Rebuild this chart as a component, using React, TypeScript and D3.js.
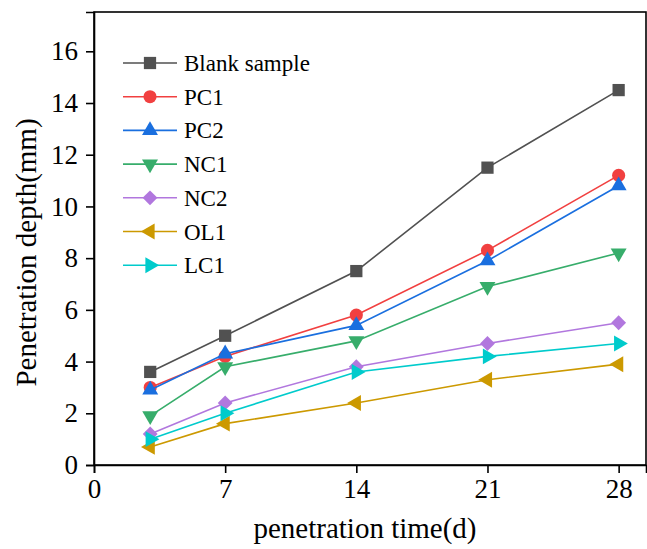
import { useEffect, useRef } from 'react';
import * as d3 from 'd3';

const days = [3, 7, 14, 21, 28];
const xTicks = [0, 7, 14, 21, 28];
const yTicks = [0, 2, 4, 6, 8, 10, 12, 14, 16];

const seriesNames = ['Blank sample', 'PC1', 'PC2', 'NC1', 'NC2', 'OL1', 'LC1'];
const blank = [3.6, 5.0, 7.5, 11.5, 14.5];
const pc1 = [3.0, 4.2, 5.8, 8.3, 11.2];
const pc2 = [2.9, 4.3, 5.4, 7.9, 10.8];
const nc1 = [1.9, 3.8, 4.8, 6.9, 8.2];
const nc2 = [1.2, 2.4, 3.8, 4.7, 5.5];
const ol1 = [0.7, 1.6, 2.4, 3.3, 3.9];
const lc1 = [1.0, 2.0, 3.6, 4.2, 4.7];

const colors = ['#515151', '#F14040', '#1A6FDF', '#37AD6B', '#B177DE', '#CC9900', '#00CBCC'];

const W = 647;
const H = 549;
const FONT = "'Liberation Serif', 'Times New Roman', Times, serif";

const App = () => {
    const svgRef = useRef<SVGSVGElement | null>(null);

    useEffect(() => {
        const values = [blank, pc1, pc2, nc1, nc2, ol1, lc1];
        const margin = { top: 12, right: 1, bottom: 84, left: 94 };
        const innerW = W - margin.left - margin.right;
        const innerH = H - margin.top - margin.bottom;

        const svg = d3.select(svgRef.current)
            .attr('font-family', FONT);
        svg.selectAll('*').remove();

        const g = svg.append('g').attr('transform', `translate(${margin.left},${margin.top})`);

        const x = d3.scaleLinear().domain([0, 29.46]).range([0, innerW]);
        const y = d3.scaleLinear().domain([0, 17.52]).range([innerH, 0]);

        // marker shapes: square, circle, up, down, diamond, left, right
        const markers: { type: d3.SymbolType; size: number; rot: number }[] = [
            { type: d3.symbolSquare, size: 150, rot: 0 },
            { type: d3.symbolCircle, size: 135, rot: 0 },
            { type: d3.symbolTriangle, size: 110, rot: 0 },
            { type: d3.symbolTriangle, size: 110, rot: 180 },
            { type: d3.symbolSquare, size: 110, rot: 45 },
            { type: d3.symbolTriangle, size: 110, rot: -90 },
            { type: d3.symbolTriangle, size: 110, rot: 90 },
        ];

        // frame
        g.append('rect')
            .attr('x', 0).attr('y', 0)
            .attr('width', innerW).attr('height', innerH)
            .attr('fill', 'none')
            .attr('stroke', '#000')
            .attr('stroke-width', 1.6);

        const styleAxis = (ax: d3.Selection<SVGGElement, unknown, null, undefined>) => {
            ax.attr('font-family', FONT).attr('font-size', 27);
            ax.select('.domain').attr('stroke-width', 1.6);
            ax.selectAll('line').attr('stroke-width', 1.6);
            ax.selectAll('text')
                .attr('font-family', FONT)
                .style('font-family', FONT)
                .style('font-size', '27px')
                .attr('fill', '#000');
        };

        // x axis
        const xAxis = g.append('g')
            .attr('transform', `translate(0,${innerH})`)
            .call(d3.axisBottom(x).tickValues(xTicks).tickSize(8).tickPadding(6).tickFormat(d3.format('d')));
        styleAxis(xAxis);

        // y axis
        const yAxis = g.append('g')
            .call(d3.axisLeft(y).tickValues(yTicks).tickSize(8).tickPadding(8).tickFormat(d3.format('d')));
        styleAxis(yAxis);

        // axis titles
        svg.append('text')
            .attr('x', margin.left + innerW / 2 - 5)
            .attr('y', 538)
            .attr('text-anchor', 'middle')
            .style('font-family', FONT)
            .style('font-size', '29px')
            .text('penetration time(d)');

        svg.append('text')
            .attr('transform', `translate(36,${margin.top + innerH / 2 + 14}) rotate(-90)`)
            .attr('text-anchor', 'middle')
            .style('font-family', FONT)
            .style('font-size', '29px')
            .text('Penetration depth(mm)');

        const line = d3.line<number>()
            .x((_, i) => x(days[i]))
            .y(d => y(d));

        values.forEach((vals, si) => {
            g.append('path')
                .datum(vals)
                .attr('fill', 'none')
                .attr('stroke', colors[si])
                .attr('stroke-width', 1.6)
                .attr('d', line);

            const m = markers[si];
            const sym = d3.symbol().type(m.type).size(m.size);
            g.selectAll(`.pt-${si}`)
                .data(vals)
                .enter()
                .append('path')
                .attr('transform', (d, i) => `translate(${x(days[i])},${y(d)}) rotate(${m.rot})`)
                .attr('d', sym)
                .attr('fill', colors[si]);
        });

        // legend
        const legend = svg.append('g').attr('transform', 'translate(123,63)');
        seriesNames.forEach((name, i) => {
            const row = legend.append('g').attr('transform', `translate(0,${i * 33.7})`);
            row.append('line')
                .attr('x1', 0).attr('x2', 54)
                .attr('y1', 0).attr('y2', 0)
                .attr('stroke', colors[i])
                .attr('stroke-width', 1.6);
            const m = markers[i];
            row.append('path')
                .attr('transform', `translate(27,0) rotate(${m.rot})`)
                .attr('d', d3.symbol().type(m.type).size(m.size)())
                .attr('fill', colors[i]);
            row.append('text')
                .attr('x', 61)
                .attr('y', 0)
                .attr('dy', '0.35em')
                .attr('font-family', FONT)
                .style('font-family', FONT)
                .style('font-size', '23px')
                .text(name);
        });
    }, []);

    return (
        <svg
            ref={svgRef}
            width={W}
            height={H}
            style={{ position: 'absolute', left: 0, top: 0, background: '#fff' }}
        />
    );
};

export default App;
